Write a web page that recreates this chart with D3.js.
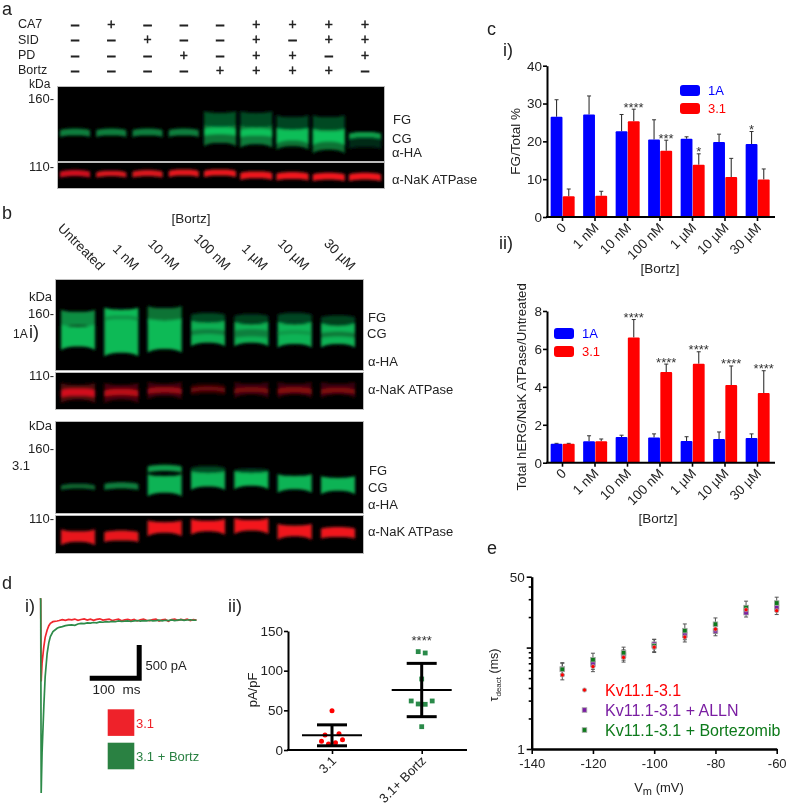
<!DOCTYPE html>
<html><head><meta charset="utf-8">
<script src="https://cdn.jsdelivr.net/npm/d3@7/dist/d3.min.js"></script>
<style>
html,body{margin:0;padding:0;background:#fff}
svg{display:block}
text{font-family:"Liberation Sans",Arial,sans-serif;fill:#222;white-space:pre}
</style></head><body>
<div id="chart"></div>
<script>
// ---------- data ----------
const treatNames = ["CA7","SID","PD","Bortz"];
const treatCA7   = "-+---++ ++".replace(" ","").split("");
const treatSID   = "--+--+-++".split("");
const treatPD    = "---+-++-+".split("");
const treatBortz = "----++++-".split("");

// blot bands: [lane, upper kDa, lower kDa, brightness]
const bandsAGreen = [
 [0,137.5,132.5,.62],[1,137.5,132.5,.62],[2,137.5,132.5,.62],[3,137.5,132.5,.62],
 [4,149,139,.36],[5,149,138.5,.3],[6,146,136,.28],[7,146,136.5,.3],
 [4,139,127,.55],[5,138.5,126,.6],[6,136,124.5,.55],[7,136.5,122,.55],
 [4,138.5,133.5,1],[5,137.5,132.5,1],[6,136.5,129,.98],[7,135.5,128,1],
 [8,135,131,.82],[8,131,124,.14]];
const bandsARed = [
 [0,107,102.6,.85],[1,106.5,102.6,.9],[2,107,102.6,.9],[3,107.5,103,.95],[4,107.5,103,.98],
 [5,106,101,.98],[6,105.5,100.5,1],[7,105,100,1],[8,105,100,1]];
const bandsB1Green = [
 [0,161,150,.7],[1,162.7,128,.96],[2,164,154,.55],[3,160,152,.3],[4,159,152,.26],[5,160,152,.28],[6,158,151,.26],
 [0,149,133,.96],[2,154,131,.96],[3,152,136,.9],[4,151,136,.9],[5,151,135,.92],[6,150,135,.92],
 [1,158,155,.72],[3,147,143,.62],[4,147,141,.62],[5,146,143,.75],[6,145,141,.58]];
const bandsB1Red = [
 [0,102,90,.25],[1,102,90,.22],[2,103,93,.18],[3,103,95,.12],[4,103,94,.14],[5,103,94,.15],[6,103,94,.14],
 [0,99,93.5,.85],[1,98.5,94,.75],[2,100,96,.6],[3,100.5,97.5,.4],[4,100,96.5,.45],[5,100,96,.5],[6,99.5,96,.48]];
const bandsB2Green = [
 [0,134.5,131,.48],[1,135.5,131,.62],
 [2,148,143.5,.8],[3,147,142,.3],[4,145.5,142,.22],
 [2,140,128,.92],[3,142,132.5,.92],[4,142,133,.96],[5,140,130.5,.92],[6,138.6,129.5,.92]];
const bandsB2Red = [
 [0,100.5,93,.95],[1,101,94,.95],[2,107,99.5,.98],[3,108,100.5,1],[4,108.5,101,1],[5,104.5,97,.98],[6,103.5,96.5,.98]];

const bortzLaneLabels = ["Untreated","1 nM","10 nM","100 nM","1 µM","10 µM","30 µM"];
const doseLabels = ["0","1 nM","10 nM","100 nM","1 µM","10 µM","30 µM"];
const seriesNames = ["1A","3.1"];

const fg1A   = [26.5,27.1,22.7,20.5,20.7,19.8,19.3];
const fg1AErr= [31,32,27.1,25.7,21.2,21.9,22.6];
const fg31   = [5.5,5.6,25.3,17.5,13.8,10.6,9.9];
const fg31Err= [7.4,6.8,28.5,20.3,16.7,15.5,12.7];
const fgSig  = [["10 nM","mid","****"],["100 nM","mid","***"],["1 µM","3.1","*"],["30 µM","1A","*"]];

const tot1A   = [1,1.13,1.35,1.33,1.15,1.25,1.3];
const tot1AErr= [1.02,1.42,1.45,1.52,1.37,1.62,1.52];
const tot31   = [1,1.13,6.6,4.78,5.22,4.1,3.68];
const tot31Err= [1.02,1.25,7.55,5.2,5.85,5.1,4.85];
const totSig  = [["10 nM","3.1","****"],["100 nM","3.1","****"],["1 µM","3.1","****"],["10 µM","3.1","****"],["30 µM","3.1","****"]];

const traceTimeFast = [0,0.4,1.3,3,6.4,9,12.8,16,19,24,32];
const traceGreenFast= [330,300,-2600,-2000,-1300,-850,-500,-340,-250,-175,-125];
const traceRedFast  = [330,300,-925,-650,-400,-260,-150,-85,-50,-25,-15];
const tracePlateauT = [36,42,48,54,60,66,72,78,84,90,96,102,108,114,120,126,132,138,144,150,156,162,168,174,180,186,192,198,204,210,216,222,228,234,240,246,252,258,264,270,276,282,288,294,300];
const traceGreenSlow= [-110,-100,-85,-78,-72,-80,-60,-52,-55,-44,-48,-38,-42,-28,-34,-24,-30,-22,-26,-14,-22,-18,-12,-22,-14,-8,-18,-10,-14,-4,-12,-8,-2,-12,-4,-8,2,-8,-2,4,-6,0,4,-4,-2];
const traceRedSlow  = [-8,6,-6,10,2,14,-4,8,16,0,12,-6,10,18,-2,6,14,-8,4,12,-12,2,10,-6,8,-14,4,12,-4,-10,6,14,-16,2,8,-18,6,12,-6,10,-2,14,-8,4,0];

const pa31     = [49.6,18.9,20.6,10.9,13,9.2,7.6];
const pa31Off  = [0,-1,1,-1.5,1.5,.5,-.5];
const paBortz  = [124,122.3,89.5,61.8,61.8,58,57.6,29.4];
const paBortzOff=[-.5,.5,0,-1.5,1.5,-.5,.5,0];
const paGroups = ["3.1","3.1+ Bortz"];
const paMean   = [18.5,75.6];
const paSD     = [13.2,33.6];

const vm = [-130,-120,-110,-100,-90,-80,-70,-60];
const tauRed    = [5.37,6.5,8.0,10.1,12.7,15.2,23.6,23.1];
const tauRedUp  = [6.0,7.3,8.9,11.2,14.2,16.8,25.8,25.2];
const tauPurple = [6.15,6.9,8.45,10.8,13.3,14.6,22.1,24.8];
const tauPurpleUp=[7.0,7.8,9.5,12.0,14.8,16.3,24.4,27];
const tauGreen  = [6.1,7.6,8.9,10.4,14.7,17,24.8,27.5];
const tauGreenUp= [7.1,8.8,10.1,12.1,17.1,19.6,28.7,31.4];
const tauSeries = ["Kv11.1-3.1","Kv11.1-3.1 + ALLN","Kv11.1-3.1 + Bortezomib"];

// ---------- page ----------
const BLUE="#0000ff", RED="#ff0000", FS=13;
const svg = d3.select("#chart").append("svg").attr("width",787).attr("height",805);
const defs = svg.append("defs");
defs.append("filter").attr("id","soft").attr("x","-20%").attr("y","-60%").attr("width","140%").attr("height","220%")
  .append("feGaussianBlur").attr("stdDeviation",1.4);
defs.append("filter").attr("id","soft2").attr("filterUnits","userSpaceOnUse").attr("x",0).attr("y",0).attr("width",787).attr("height",805)
  .append("feGaussianBlur").attr("stdDeviation",0.3);
const root = svg.append("g").attr("filter","url(#soft2)");

function label(t,x,y,o={}){
  const e=root.append("text").attr("x",x).attr("y",y).attr("dominant-baseline","central")
    .attr("font-size",o.size||FS).attr("text-anchor",o.anchor||"start").text(t);
  if(o.color) e.style("fill",o.color);
  if(o.rotate!==undefined) e.attr("transform",`rotate(${o.rotate} ${x} ${y})`);
  return e;
}
const greenRamp=d3.interpolateRgb("#01140a","#10c15a"), redRamp=d3.interpolateRgb("#180203","#f4141f");
let clipId=0;
function blot(x0,x1,y0,y1,kDaScale,laneScale,bands,ramp,halfW){
  const id="clip"+(clipId++);
  defs.append("clipPath").attr("id",id).append("rect").attr("x",x0).attr("y",y0).attr("width",x1-x0).attr("height",y1-y0);
  root.append("rect").attr("x",x0-.5).attr("y",y0-.5).attr("width",x1-x0+1).attr("height",y1-y0+1)
    .attr("fill","#000").attr("stroke","#bbb").attr("stroke-width",1);
  const g=root.append("g").attr("clip-path",`url(#${id})`).append("g").attr("filter","url(#soft)");
  const u=[-1,-.92,-.75,-.4,0,.4,.75,.92,1];
  bands.forEach(b=>{
    const [lane,hi,lo,lev]=b, cx=laneScale(lane), w=halfW(lane);
    const yt=kDaScale(hi), yb=kDaScale(lo), thin=(yb-yt)<10;
    const top=thin?1.6:-2, bot=thin?1.6:3.5;
    const area=d3.area().curve(d3.curveMonotoneX)
      .x(d=>cx+d*w)
      .y0(d=>yt+top*Math.pow(Math.abs(d),3))
      .y1(d=>yb+bot*Math.pow(Math.abs(d),3));
    g.append("path").attr("d",area(u)).attr("fill",ramp(lev));
  });
}
function plusMinus(ch,x,y){
  root.append("text").attr("x",x).attr("y",y).attr("dominant-baseline","central").attr("text-anchor","middle")
   .attr("font-size",13.8).attr("stroke","#222").attr("stroke-width",ch==="+"?.5:.9).text(ch==="+"?"+":"–");
}

// ---------- panel a ----------
label("a",2,9,{size:18});
const laneA=d3.scaleLinear().domain([0,8]).range([75,365]);
[treatCA7,treatSID,treatPD,treatBortz].forEach((row,r)=>{
  const y=[24,39.5,55,70][r];
  label(treatNames[r],18,y,{size:12.5});
  row.forEach((c,i)=>plusMinus(c,laneA(i),y));
});
const kA=d3.scaleLinear().domain([160,110]).range([98,166]);
const wA=l=>l<4?15:16;
blot(58,384,87,161,kA,laneA,bandsAGreen,greenRamp,wA);
blot(58,384,163,188,kA,laneA,bandsARed,redRamp,l=>l<4?15:16);
label("kDa",29,84,{size:12});
label("160-",54,98,{anchor:"end"});
label("110-",54,166,{anchor:"end"});
label("FG",393,119);label("CG",392,138);label("α-HA",392,152);label("α-NaK ATPase",392,179);

// ---------- panel b ----------
label("b",2,213,{size:18});
label("[Bortz]",191,218,{anchor:"middle",size:13.5});
const laneB=d3.scaleLinear().domain([0,6]).range([78,338]);
const labelShift=[21,12,9,17,11,9,12];
bortzLaneLabels.forEach((t,i)=>{
  const x=laneB(i)+labelShift[i];
  root.append("text").attr("transform",`translate(${x},271) rotate(45)`).attr("text-anchor","end")
    .attr("font-size",13.5).text(t);
});
const kB1=d3.scaleLinear().domain([160,110]).range([313,375]);
const kB2=d3.scaleLinear().domain([160,110]).range([448,518]);
const wB=l=>17;
blot(56,363,280,370,kB1,laneB,bandsB1Green,greenRamp,wB);
blot(56,363,373,409,kB1,laneB,bandsB1Red,redRamp,wB);
blot(56,363,422,513,kB2,laneB,bandsB2Green,greenRamp,wB);
blot(56,363,516,553,kB2,laneB,bandsB2Red,redRamp,wB);
label("kDa",52,296,{anchor:"end"});
label("160-",54,313,{anchor:"end"});
label("110-",54,375,{anchor:"end"});
label("1A",13,334,{size:12});label("i)",29,332,{size:18});
label("FG",368,317);label("CG",367,333);label("α-HA",368,361);label("α-NaK ATPase",368,389);
label("kDa",52,425,{anchor:"end"});
label("160-",54,448,{anchor:"end"});
label("110-",54,518,{anchor:"end"});
label("3.1",12,465);
label("FG",369,470);label("CG",368,487);label("α-HA",368,504);label("α-NaK ATPase",368,531);

// ---------- panel c ----------
function styleAxis(g,w){
  g.select(".domain").attr("stroke","#000").attr("stroke-width",w||2);
  g.selectAll(".tick line").attr("stroke","#000").attr("stroke-width",1.6);
}
function barPanel(y0,y1,maxV,tickStep,a,aErr,b,bErr,sig,ytitle,titleX,legend){
  const x=d3.scaleBand().domain(doseLabels).range([546.25,773.75]);
  const xs=d3.scaleBand().domain(seriesNames).range([4.4,28.4]).paddingInner(.03);
  const y=d3.scaleLinear().domain([0,maxV]).range([y0,y1]);
  const vals={"1A":a,"3.1":b}, errs={"1A":aErr,"3.1":bErr}, cols={"1A":BLUE,"3.1":RED};
  const g=root.append("g");
  seriesNames.forEach(s=>{
    const gs=g.append("g");
    gs.selectAll("line.e").data(doseLabels).join("line")
      .attr("x1",d=>x(d)+xs(s)+xs.bandwidth()/2).attr("x2",d=>x(d)+xs(s)+xs.bandwidth()/2)
      .attr("y1",(d,i)=>y(vals[s][i])).attr("y2",(d,i)=>y(errs[s][i])).attr("stroke","#333").attr("stroke-width",1.1);
    gs.selectAll("line.c").data(doseLabels).join("line")
      .attr("x1",d=>x(d)+xs(s)+xs.bandwidth()/2-2).attr("x2",d=>x(d)+xs(s)+xs.bandwidth()/2+2)
      .attr("y1",(d,i)=>y(errs[s][i])).attr("y2",(d,i)=>y(errs[s][i])).attr("stroke","#333").attr("stroke-width",1);
    gs.selectAll("rect").data(doseLabels).join("rect")
      .attr("x",d=>x(d)+xs(s)).attr("width",xs.bandwidth())
      .attr("y",(d,i)=>y(vals[s][i])).attr("height",(d,i)=>y(0)-y(vals[s][i]))
      .attr("rx",1).attr("fill",cols[s]);
  });
  sig.forEach(([cat,where,t])=>{
    const i=doseLabels.indexOf(cat);
    const s=where==="mid"?"3.1":where;
    const cx=where==="mid"?x(cat)+x.bandwidth()/2+6:x(cat)+xs(s)+xs.bandwidth()/2;
    root.append("text").attr("x",cx).attr("y",y(errs[s][i])+2.5).attr("text-anchor","middle")
      .attr("font-size",13).style("fill","#333").text(t);
  });
  const ax=g.append("g").attr("transform",`translate(547,0)`)
    .call(d3.axisLeft(y).tickValues(d3.range(0,maxV+.01,tickStep)).tickSize(4).tickSizeOuter(0).tickPadding(1));
  styleAxis(ax); ax.selectAll("text").attr("font-size",13.5).style("font-family","Liberation Sans");
  const bx=g.append("g").attr("transform",`translate(0,${y0})`)
    .call(d3.axisBottom(x).tickSize(4).tickSizeOuter(0).tickPadding(2));
  bx.select(".domain").attr("d",`M546,0H775`);
  styleAxis(bx);
  bx.selectAll("text").attr("font-size",13.5).style("font-family","Liberation Sans")
    .attr("text-anchor","end").attr("dy",0).attr("transform","translate(1,8) rotate(-45)").attr("y",5).attr("x",0);
  label(ytitle,titleX,(y0+y1)/2+(legend.titleShift||0),{anchor:"middle",rotate:-90,size:legend.titleSize||13.5});
  seriesNames.forEach((s,i)=>{
    root.append("rect").attr("x",legend.x).attr("y",legend.y[i]).attr("width",20).attr("height",11).attr("rx",3).attr("fill",cols[s]);
    label(s,legend.x+28,legend.y[i]+5.5,{color:cols[s],size:13});
  });
}
label("c",487,29,{size:18});
label("i)",503,50,{size:18});
label("ii)",499,243,{size:18});
barPanel(217,65.7,40,10,fg1A,fg1AErr,fg31,fg31Err,fgSig,"FG/Total %",516,{x:680,y:[85,103],titleShift:0});
label("[Bortz]",660,268,{anchor:"middle",size:13.5});
barPanel(462.7,311,8,2,tot1A,tot1AErr,tot31,tot31Err,totSig,"Total hERG/NaK ATPase/Untreated",522,{x:554,y:[328,346],titleSize:13.2,titleShift:0});
label("[Bortz]",658,518,{anchor:"middle",size:13.5});

// ---------- panel d ----------
label("d",2,583,{size:18});
label("i)",25,606,{size:18});
label("ii)",228,606,{size:18});
const tx=d3.scaleLinear().domain([0,300]).range([40.5,196.5]);
const ty=d3.scaleLinear().domain([-2600,0]).range([793,620]);
const zipT=(f,s)=>traceTimeFast.map((t,i)=>[t,f[i]]).concat(tracePlateauT.map((t,i)=>[t,s[i]]));
const linearLine=d3.line().x(d=>tx(d[0])).y(d=>ty(d[1]));
root.append("path").attr("d",linearLine(zipT(traceRedFast,traceRedSlow))).attr("fill","none").attr("stroke","#f0282d").attr("stroke-width",1.7);
root.append("path").attr("d",linearLine(zipT(traceGreenFast,traceGreenSlow))).attr("fill","none").attr("stroke","#2e8b4a").attr("stroke-width",1.7);
// scale bar, sized from the trace scales
const sbT=100, sbI=500, sbX1=141.7, sbY1=680.7;
root.append("path").attr("d",`M${sbX1-(tx(sbT)-tx(0))},${sbY1-2.5}H${sbX1-2.5}V${sbY1-(ty(0)-ty(sbI))-2.5}`)
  .attr("fill","none").attr("stroke","#000").attr("stroke-width",5);
label("500 pA",145.5,665);
label("100  ms",92.5,689,{size:13.5});
root.append("rect").attr("x",107.7).attr("y",709.3).attr("width",26.6).attr("height",26.6).attr("fill","#ee2229");
root.append("rect").attr("x",107.7).attr("y",742.7).attr("width",26.6).attr("height",26.6).attr("fill","#2a8142");
label("3.1",136,723,{color:"#ee2229"});
label("3.1 + Bortz",136,756,{color:"#2a8142"});

// scatter
(function(){
  const x=d3.scalePoint().domain(paGroups).range([332,421.7]);
  const y=d3.scaleLinear().domain([0,150]).range([750,631]);
  const jitter=7; // px per jitter unit
  const g=root.append("g");
  const ax=g.append("g").attr("transform","translate(288,0)")
    .call(d3.axisLeft(y).tickValues([0,50,100,150]).tickSize(4).tickSizeOuter(0).tickPadding(1));
  styleAxis(ax); ax.selectAll("text").attr("font-size",13.5).style("font-family","Liberation Sans");
  const bx=g.append("g").attr("transform","translate(0,750)").call(d3.axisBottom(x).tickSize(4).tickSizeOuter(0));
  bx.select(".domain").attr("d","M287,0H467");
  styleAxis(bx);
  bx.selectAll("text").attr("font-size",13).style("font-family","Liberation Sans").attr("text-anchor","end")
    .attr("dy",0).attr("y",5).attr("x",0).attr("transform","translate(1,8) rotate(-45)");
  label("pA/pF",252,690,{anchor:"middle",rotate:-90});
  g.selectAll("circle").data(pa31).join("circle").attr("cx",(d,i)=>x("3.1")+pa31Off[i]*jitter).attr("cy",d=>y(d)).attr("r",2.5).attr("fill","#f00");
  g.selectAll("rect.p").data(paBortz).join("rect").attr("class","p").attr("width",4.8).attr("height",4.8)
    .attr("x",(d,i)=>x("3.1+ Bortz")+paBortzOff[i]*jitter-2.4).attr("y",d=>y(d)-2.4).attr("fill","#2a8a4a");
  paGroups.forEach((c,i)=>{
    const cx=x(c), m=paMean[i], s=paSD[i];
    const seg=(x1,x2,y1,y2,w)=>g.append("line").attr("x1",x1).attr("x2",x2).attr("y1",y1).attr("y2",y2).attr("stroke","#000").attr("stroke-width",w);
    seg(cx,cx,y(m-s),y(m+s),3);
    seg(cx-15,cx+15,y(m+s),y(m+s),3);
    seg(cx-15,cx+15,y(m-s),y(m-s),3);
    seg(cx-30,cx+30,y(m),y(m),2);
  });
  root.append("text").attr("x",x("3.1+ Bortz")).attr("y",645).attr("text-anchor","middle").attr("font-size",13).style("fill","#333").text("****");
})();

// ---------- panel e ----------
label("e",487,548,{size:18});
(function(){
  const x=d3.scaleLinear().domain([-140,-60]).range([531.7,776.7]);
  const y=d3.scaleLog().domain([1,50]).range([749,576.7]);
  const g=root.append("g");
  const major=[1,10,50], minor=[2,3,4,5,6,7,8,9,20,30,40];
  const ay=g.append("g").attr("transform","translate(531.7,0)")
    .call(d3.axisLeft(y).tickValues(major.concat(minor)).tickSize(5).tickSizeOuter(0).tickPadding(2)
      .tickFormat(d=>(d===1||d===50)?d:""));
  styleAxis(ay,2.4);
  ay.selectAll(".tick").filter(d=>minor.includes(d)).select("line").attr("x2",-3);
  ay.selectAll("text").attr("font-size",13.5).style("font-family","Liberation Sans");
  const ax=g.append("g").attr("transform","translate(0,749)")
    .call(d3.axisBottom(x).tickValues(d3.range(-140,-59,20)).tickSize(5).tickSizeOuter(0).tickPadding(5)
      .tickFormat(d=>String(d)));
  styleAxis(ax,2.4);
  ax.selectAll("text").attr("font-size",13).style("font-family","Liberation Sans");
  const series=[
    {v:tauPurple,u:tauPurpleUp,c:"#7a1fa2",shape:"s",s:4.6},
    {v:tauGreen,u:tauGreenUp,c:"#0d7a1a",shape:"s",s:4.6},
    {v:tauRed,u:tauRedUp,c:"#ff0000",shape:"c",s:2.1}];
  series.forEach(se=>{
    vm.forEach((d,i)=>{
      const lo=se.v[i]*se.v[i]/se.u[i];
      g.append("line").attr("x1",x(d)).attr("x2",x(d)).attr("y1",y(lo)).attr("y2",y(se.u[i])).attr("stroke","#555").attr("stroke-width",1);
      [lo,se.u[i]].forEach(e=>g.append("line").attr("x1",x(d)-2).attr("x2",x(d)+2).attr("y1",y(e)).attr("y2",y(e)).attr("stroke","#555").attr("stroke-width",1));
    });
  });
  const mark=(gg,se,cx,cy)=>{
    if(se.shape==="c") gg.append("circle").attr("cx",cx).attr("cy",cy).attr("r",se.s).attr("fill",se.c).attr("stroke","#aaa").attr("stroke-width",.8);
    else gg.append("rect").attr("x",cx-se.s/2).attr("y",cy-se.s/2).attr("width",se.s).attr("height",se.s).attr("fill",se.c).attr("stroke","#aaa").attr("stroke-width",.8);
  };
  series.forEach(se=>vm.forEach((d,i)=>mark(g,se,x(d),y(se.v[i]))));
  const order=[series[2],series[0],series[1]], ly=[690,710,730];
  order.forEach((se,i)=>{
    mark(g,se,584.5,ly[i]);
    label(tauSeries[i],605,ly[i],{color:se.c,size:16});
  });
  const yt=root.append("text").attr("transform","translate(498,675) rotate(-90)").attr("text-anchor","middle").attr("font-size",12.5);
  yt.append("tspan").text("τ");
  yt.append("tspan").attr("font-size",8).attr("dy",3).text("deact");
  yt.append("tspan").attr("dy",-3).text(" (ms)");
  const xt=root.append("text").attr("x",659).attr("y",792).attr("text-anchor","middle").attr("font-size",13);
  xt.append("tspan").text("V");
  xt.append("tspan").attr("font-size",11).attr("dy",3).text("m");
  xt.append("tspan").attr("dy",-3).text(" (mV)");
})();
</script>
</body></html>
